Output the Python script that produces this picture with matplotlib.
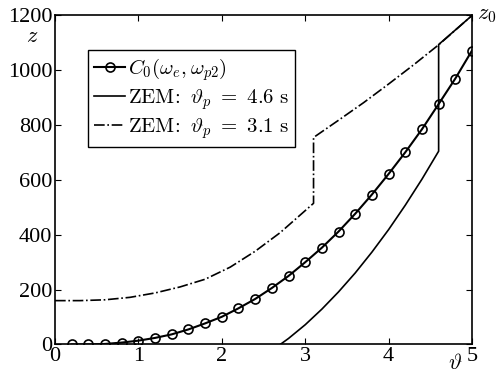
import numpy as np
import matplotlib
matplotlib.use("Agg")
import matplotlib.pyplot as plt

plt.rcParams["mathtext.fontset"] = "cm"
plt.rcParams["font.family"] = ["Liberation Serif", "DejaVu Serif"]

# C0(omega_e, omega_p2) curve (circle markers)
c0_x = [0.2, 0.4, 0.6, 0.8, 1.0, 1.2, 1.4, 1.6, 1.8, 2.0, 2.2, 2.4, 2.6,
        2.8, 3.0, 3.2, 3.4, 3.6, 3.8, 4.0, 4.2, 4.4, 4.6, 4.8, 5.0]
c0_z = [0, 0, 2, 7, 14, 24, 37, 55, 77, 101, 132, 166, 206,
        250, 300, 353, 412, 477, 547, 622, 701, 785, 877, 970, 1072]

# ZEM, theta_p = 4.6 s (solid)
zem46_x = [2.7, 2.8, 3.0, 3.2, 3.4, 3.6, 3.8, 4.0, 4.2, 4.4, 4.6, 4.6, 5.0]
zem46_z = [0, 22, 72, 129, 192, 261, 337, 419, 508, 603, 705, 1094, 1200]

# ZEM, theta_p = 3.1 s (dash-dot)
zem31_x = [0.0, 0.3, 0.6, 0.9, 1.2, 1.5, 1.8, 2.1, 2.4, 2.7, 3.1,
           3.1, 3.4, 3.7, 4.0, 4.3, 4.6, 5.0]
zem31_z = [160, 160, 163, 172, 188, 210, 238, 282, 340, 408, 515,
           755, 818, 882, 950, 1020, 1093, 1200]

fig = plt.figure(figsize=(4.96, 3.76), dpi=100)
ax = fig.add_axes([0.1109, 0.0838, 0.8407, 0.875])

ax.plot(c0_x, c0_z, "-", color="k", lw=1.5, marker="o", ms=6.5, mfc="none",
        mew=1.2, label=r"$C_0(\omega_e,\omega_{p2})$")
ax.plot(zem46_x, zem46_z, "-", color="k", lw=1.2,
        label=r"$\mathrm{ZEM\!:}\ \vartheta_p\ =\ 4.6\ \mathrm{s}$")
ax.plot(zem31_x, zem31_z, "-.", color="k", lw=1.2,
        label=r"$\mathrm{ZEM\!:}\ \vartheta_p\ =\ 3.1\ \mathrm{s}$")

ax.set_xlim(0, 5)
ax.set_ylim(0, 1200)
ax.set_xticks([0, 1, 2, 3, 4, 5])
ax.set_yticks(range(0, 1201, 200))
ax.tick_params(direction="in", top=True, right=True, length=4, width=0.8,
               labelsize=16, pad=2)
for s in ax.spines.values():
    s.set_linewidth(1.2)

leg = ax.legend(loc="upper left", bbox_to_anchor=(0.079, 0.895), borderaxespad=0,
                fontsize=15, handlelength=1.5, handletextpad=0.1, labelspacing=0.2,
                borderpad=0.3, fancybox=False, framealpha=1, edgecolor="k")
leg.get_frame().set_linewidth(1.0)

fig.text(31.7 / 496, 1 - 38 / 376, r"$z$", fontsize=16, ha="center", va="center")
fig.text(455 / 496, 1 - 364 / 376, r"$\vartheta$", fontsize=16, ha="center", va="center")
fig.text(487 / 496, 1 - 15 / 376, r"$z_0$", fontsize=16, ha="center", va="center")

fig.savefig("out.png", dpi=100)
